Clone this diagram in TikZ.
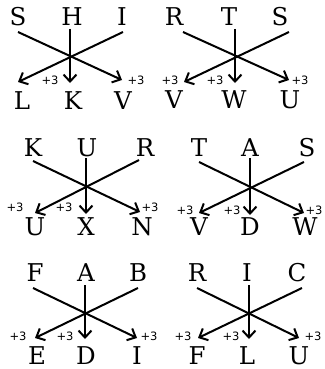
\documentclass[tikz,border=0pt]{standalone}
\usepackage{fontspec}
\setmainfont{DejaVu Serif}
\newfontfamily\labelfont{DejaVu Sans}
\usetikzlibrary{arrows.meta}

\tikzset{every picture/.style={line width=0.75pt}}
\tikzset{
  letter/.style={inner sep=0pt, font=\fontsize{24.5}{24.5}\selectfont},
  plus/.style={inner sep=0pt, font=\labelfont\fontsize{11.5}{11.5}\selectfont},
  arrowline/.style={line width=2pt, -{Straight Barb[length=7pt,width=13pt]}},
}

\begin{document}
\begin{tikzpicture}[x=1pt,y=1pt,yscale=-1,xscale=1]
\useasboundingbox (0,0) rectangle (324,369);

%Panel 1: S H I -> L K V
% Text Node
\node [letter] (S1) at (18,17) {S};
\node [letter] (H1) at (72,17) {H};
\node [letter] (I1) at (122,17) {I};
\node [letter] (L1) at (22,101) {L};
\node [letter] (K1) at (73,101) {K};
\node [letter] (V1) at (123,101) {V};
%Straight Lines
\coordinate (s1a) at (18,32);  \coordinate (e1a) at (122,80);
\coordinate (s1b) at (123,32); \coordinate (e1b) at (18,82);
\coordinate (s1c) at (70,29);  \coordinate (e1c) at (70,83);
\draw [arrowline] (s1a) -- (e1a);
\draw [arrowline] (s1b) -- (e1b);
\draw [arrowline] (s1c) -- (e1c);
% Text Node
\node [plus] (p1b) at (50,80) {+3};
\node [plus] (p1c) at (136,80) {+3};

%Panel 2: R T S -> V W U
% Text Node
\node [letter] (R2) at (174,17) {R};
\node [letter] (T2) at (229,17) {T};
\node [letter] (S2) at (280,17) {S};
\node [letter] (V2) at (174,100) {V};
\node [letter] (W2) at (234,100) {W};
\node [letter] (U2) at (290,100) {U};
%Straight Lines
\coordinate (s2a) at (183,32); \coordinate (e2a) at (289,80);
\coordinate (s2b) at (289,32); \coordinate (e2b) at (184,82);
\coordinate (s2c) at (235,29); \coordinate (e2c) at (235,83);
\draw [arrowline] (s2a) -- (e2a);
\draw [arrowline] (s2b) -- (e2b);
\draw [arrowline] (s2c) -- (e2c);
% Text Node
\node [plus] (p2a) at (170,80) {+3};
\node [plus] (p2b) at (215,80) {+3};
\node [plus] (p2c) at (300,80) {+3};

%Panel 3: K U R -> U X N
% Text Node
\node [letter] (K3) at (33,148) {K};
\node [letter] (U3) at (87,148) {U};
\node [letter] (R3) at (145,148) {R};
\node [letter] (U3b) at (35,227) {U};
\node [letter] (X3) at (86,227) {X};
\node [letter] (N3) at (142,227) {N};
%Straight Lines
\coordinate (s3a) at (33,161);  \coordinate (e3a) at (140,212);
\coordinate (s3b) at (139,160); \coordinate (e3b) at (35,213);
\coordinate (s3c) at (86,158);  \coordinate (e3c) at (86,214);
\draw [arrowline] (s3a) -- (e3a);
\draw [arrowline] (s3b) -- (e3b);
\draw [arrowline] (s3c) -- (e3c);
% Text Node
\node [plus] (p3a) at (15,207) {+3};
\node [plus] (p3b) at (64,207) {+3};
\node [plus] (p3c) at (150,207) {+3};

%Panel 4: T A S -> V D W
% Text Node
\node [letter] (T4) at (199,148) {T};
\node [letter] (A4) at (250,148) {A};
\node [letter] (S4) at (307,148) {S};
\node [letter] (V4) at (199,227) {V};
\node [letter] (D4) at (250,227) {D};
\node [letter] (W4) at (305,227) {W};
%Straight Lines
\coordinate (s4a) at (199,162); \coordinate (e4a) at (304,213);
\coordinate (s4b) at (304,162); \coordinate (e4b) at (199,213);
\coordinate (s4c) at (250,158); \coordinate (e4c) at (250,215);
\draw [arrowline] (s4a) -- (e4a);
\draw [arrowline] (s4b) -- (e4b);
\draw [arrowline] (s4c) -- (e4c);
% Text Node
\node [plus] (p4a) at (185,210) {+3};
\node [plus] (p4b) at (232,210) {+3};
\node [plus] (p4c) at (314,210) {+3};

%Panel 5: F A B -> E D I
% Text Node
\node [letter] (F5) at (35,273) {F};
\node [letter] (A5) at (86,273) {A};
\node [letter] (B5) at (138,273) {B};
\node [letter] (E5) at (37,356) {E};
\node [letter] (D5) at (86,356) {D};
\node [letter] (I5) at (137,356) {I};
%Straight Lines
\coordinate (s5a) at (33,288);  \coordinate (e5a) at (137,338);
\coordinate (s5b) at (138,288); \coordinate (e5b) at (35,338);
\coordinate (s5c) at (85,285);  \coordinate (e5c) at (85,339);
\draw [arrowline] (s5a) -- (e5a);
\draw [arrowline] (s5b) -- (e5b);
\draw [arrowline] (s5c) -- (e5c);
% Text Node
\node [plus] (p5a) at (18,336) {+3};
\node [plus] (p5b) at (65,336) {+3};
\node [plus] (p5c) at (149,336) {+3};

%Panel 6: R I C -> F L U
% Text Node
\node [letter] (R6) at (197,273) {R};
\node [letter] (I6) at (247,273) {I};
\node [letter] (C6) at (297,273) {C};
\node [letter] (F6) at (197,356) {F};
\node [letter] (L6) at (247,356) {L};
\node [letter] (U6) at (299,356) {U};
%Straight Lines
\coordinate (s6a) at (197,288); \coordinate (e6a) at (299,338);
\coordinate (s6b) at (302,288); \coordinate (e6b) at (198,338);
\coordinate (s6c) at (249,285); \coordinate (e6c) at (249,339);
\draw [arrowline] (s6a) -- (e6a);
\draw [arrowline] (s6b) -- (e6b);
\draw [arrowline] (s6c) -- (e6c);
% Text Node
\node [plus] (p6a) at (183,336) {+3};
\node [plus] (p6b) at (231,336) {+3};
\node [plus] (p6c) at (313,336) {+3};

\end{tikzpicture}
\end{document}
